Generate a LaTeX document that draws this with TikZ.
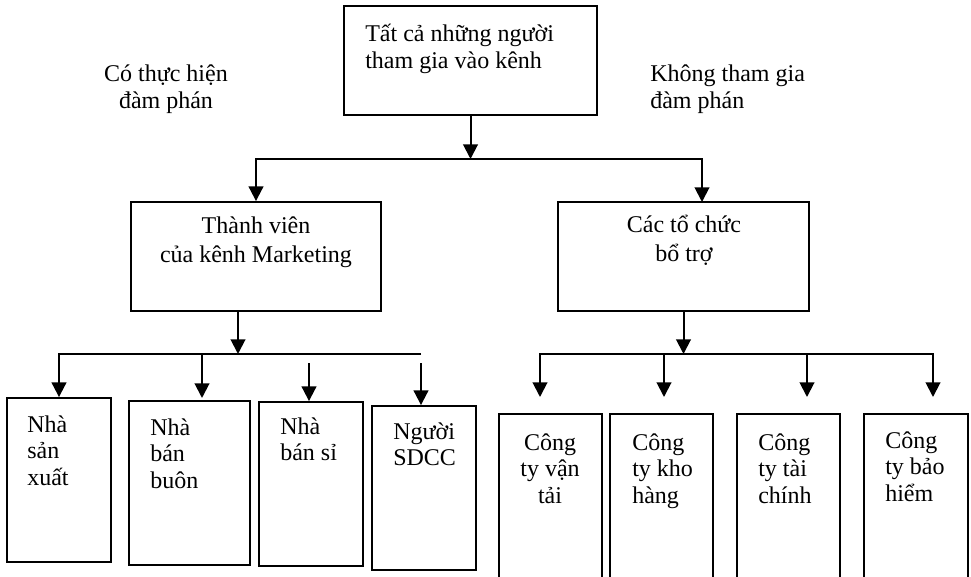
\documentclass[tikz,border=0pt]{standalone}
\usepackage{fontspec}
\setmainfont{Liberation Serif}
\usetikzlibrary{arrows.meta,fit}
\newcommand\pbl[1]{\parbox[t]{6cm}{\raggedright\lineskiplimit=-20pt #1}}
\newcommand\pbc[1]{\parbox[t]{6cm}{\centering\lineskiplimit=-20pt #1}}
\begin{document}
\begin{tikzpicture}[x=0.75pt,y=-0.75pt,
  ln/.style={line width=1.5pt},
  arr/.style={line width=1.5pt,-{Triangle[width=11pt,length=11pt]}},
  box/.style={draw,line width=1.4pt,inner sep=0pt},
  txt/.style={inner sep=0pt,anchor=base west,font=\fontsize{18}{20}\selectfont},
  txtc/.style={inner sep=0pt,anchor=base,font=\fontsize{18}{20}\selectfont},
  txtm/.style={inner sep=0pt,anchor=base,font=\fontsize{18}{21.5}\selectfont},
]
\clip (0,0) rectangle (971,577);
% boxes
\node[box,fit={(344,6) (597,115)}] (top) {};
\node[box,fit={(131,202) (381,311)}] (mem) {};
\node[box,fit={(558,202) (809,311)}] (sup) {};
\node[box,fit={(7,398) (111,562)}] (b1) {};
\node[box,fit={(129,401) (250,565)}] (b2) {};
\node[box,fit={(259,402) (363,566)}] (b3) {};
\node[box,fit={(372,406) (476,570)}] (b4) {};
\node[box,fit={(499,414) (602,600)}] (r1) {};
\node[box,fit={(610,414) (713,600)}] (r2) {};
\node[box,fit={(737,414) (840,600)}] (r3) {};
\node[box,fit={(864,414) (968,600)}] (r4) {};
% texts
\node[txt] (ttop) at (365,42) {\pbl{Tất cả những người\\tham gia vào kênh}};
\node[txtc] (lblL) at (166,82) {\pbc{Có thực hiện\\đàm phán}};
\node[txt] (lblR) at (650,82) {\pbl{Không tham gia\\đàm phán}};
\node[txtm] (tmem) at (256,234) {\pbc{Thành viên\\của kênh Marketing}};
\node[txtm] (tsup) at (684,233) {\pbc{Các tổ chức\\bổ trợ}};
\node[txt] (tb1) at (27,432) {\pbl{Nhà\\sản\\xuất}};
\node[txt] (tb2) at (150,435) {\pbl{Nhà\\bán\\buôn}};
\node[txt] (tb3) at (280,434) {\pbl{Nhà\\bán sỉ}};
\node[txt] (tb4) at (393,439) {\pbl{Người\\SDCC}};
\node[txtc] (tr1) at (550,450) {\pbc{Công\\ty vận\\tải}};
\node[txt] (tr2) at (632,450) {\pbl{Công\\ty kho\\hàng}};
\node[txt] (tr3) at (758,450) {\pbl{Công\\ty tài\\chính}};
\node[txt] (tr4) at (885,448) {\pbl{Công\\ty bảo\\hiểm}};
% connector coordinates
\coordinate (j0) at (470.5,159);
\coordinate (inR) at (702,202);
\coordinate (m0) at (238,354);
\coordinate (m4) at (421,354);
\coordinate (m2) at (202,354);
\coordinate (a2) at (202,398);
\coordinate (s3) at (309,363);
\coordinate (s4) at (421,363);
\coordinate (n0) at (683.5,354);
\coordinate (n2) at (664,354);
\coordinate (n3) at (807,354);
\coordinate (e1) at (540,397);
\coordinate (e2) at (664,397);
\coordinate (e3) at (807,397);
\coordinate (e4) at (933,397);
% connectors
\draw[arr] (top.south) -- (j0);
\draw[arr] (j0) -| (mem.north);
\draw[arr] (j0) -| (inR);
\draw[arr] (mem.south -| m0) -- (m0);
\draw[arr] (m4) -| (b1.north);
\draw[arr] (m2) -- (a2);
\draw[arr] (s3) -- (b3.north -| s3);
\draw[arr] (s4) -- (b4.north -| s4);
\draw[arr] (sup.south) -- (n0);
\draw[arr] (n0) -| (e1);
\draw[arr] (n0) -| (e4);
\draw[arr] (n2) -- (e2);
\draw[arr] (n3) -- (e3);
\end{tikzpicture}
\end{document}
